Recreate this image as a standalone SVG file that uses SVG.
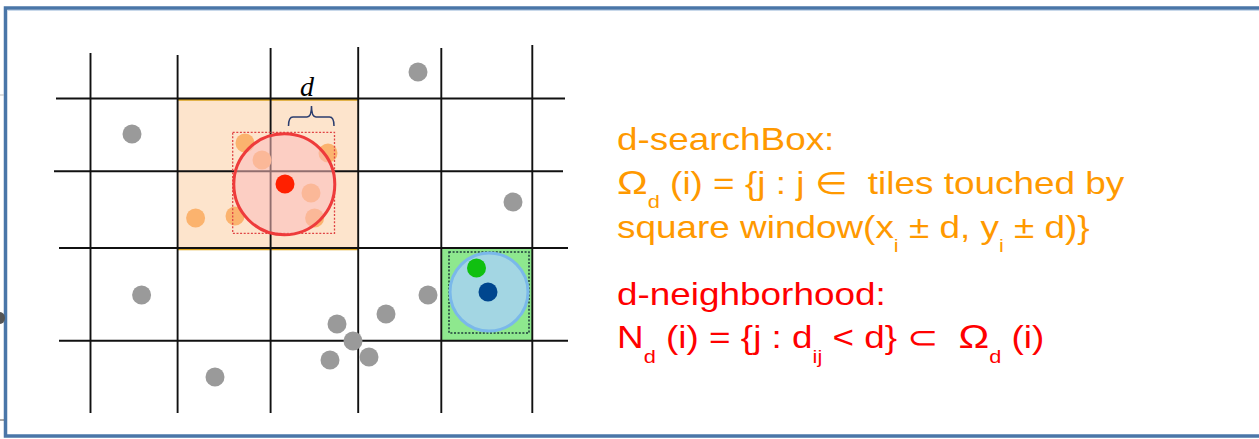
<svg xmlns="http://www.w3.org/2000/svg" width="1259" height="439" viewBox="0 0 1259 439">
<style>
.grid line{stroke:#111;stroke-width:1.9}
.gray{fill:#9a9a9a}
.org{fill:#fbb36e}
.t{font-family:"Liberation Sans",Arial,sans-serif;font-size:30.5px}
.o{fill:#ff9900}
.r{fill:#ff0000}
.sub{font-size:18px}
.om{font-size:34px}
</style>
<rect x="0" y="0" width="1259" height="439" fill="#ffffff"/>
<g id="frame">
<rect x="5.5" y="8" width="1300" height="428" fill="none" stroke="#4a76a8" stroke-width="3.5"/>
<line x1="7" y1="10.5" x2="1259" y2="10.5" stroke="#c8d8ea" stroke-width="1"/>
<path d="M0,312 A5,6 0 0 1 0,324 Z" fill="#555"/>
<line x1="0" y1="420" x2="4" y2="420" stroke="#555" stroke-width="1"/>
<line x1="0" y1="95" x2="4" y2="95" stroke="#bbb" stroke-width="1"/>
</g>
<g id="searchbox-area">
<rect x="177.6" y="98.5" width="180.6" height="149.5" fill="#fde4cc"/>
<line x1="177.6" y1="99.8" x2="358.2" y2="99.8" stroke="#d9a21e" stroke-width="2"/>
<line x1="177.6" y1="249.3" x2="358.2" y2="249.3" stroke="#d9a21e" stroke-width="2"/>
</g>
<g id="green-tile">
<rect x="442" y="248" width="90" height="92.5" fill="#8ee88e"/>
</g>
<g id="grid" class="grid">
<line x1="90.5" y1="53" x2="90.5" y2="413"/>
<line x1="177.6" y1="55" x2="177.6" y2="413"/>
<line x1="270.6" y1="48" x2="270.6" y2="413"/>
<line x1="358.2" y1="47" x2="358.2" y2="413"/>
<line x1="441.3" y1="48" x2="441.3" y2="413"/>
<line x1="532.3" y1="45" x2="532.3" y2="413"/>
<line x1="56" y1="98.5" x2="565" y2="98.5"/>
<line x1="54" y1="171.3" x2="563" y2="171.3"/>
<line x1="59" y1="248" x2="568" y2="248"/>
<line x1="59" y1="340.7" x2="568" y2="340.7"/>
</g>
<g id="gray-points">
<circle class="gray" cx="418" cy="72" r="9.5"/>
<circle class="gray" cx="132" cy="134" r="9.5"/>
<circle class="gray" cx="513" cy="202" r="9.5"/>
<circle class="gray" cx="141.6" cy="295" r="9.5"/>
<circle class="gray" cx="428" cy="295" r="9.5"/>
<circle class="gray" cx="386" cy="314" r="9.5"/>
<circle class="gray" cx="337" cy="324" r="9.5"/>
<circle class="gray" cx="353" cy="341" r="9.5"/>
<circle class="gray" cx="330" cy="360" r="9.5"/>
<circle class="gray" cx="369" cy="357" r="9.5"/>
<circle class="gray" cx="215" cy="377" r="9.5"/>
</g>
<g id="orange-points">
<circle class="org" cx="245" cy="143" r="9.5"/>
<circle class="org" cx="262" cy="160" r="9.5"/>
<circle class="org" cx="328" cy="153" r="9.5"/>
<circle class="org" cx="311" cy="193" r="9.5"/>
<circle class="org" cx="195.6" cy="218" r="9.5"/>
<circle class="org" cx="235" cy="216" r="9.5"/>
<circle class="org" cx="314.6" cy="218" r="9.5"/>
</g>
<g id="red-neighborhood">
<rect x="232.7" y="132.3" width="101.8" height="101" fill="none" stroke="#e04545" stroke-width="1.3" stroke-dasharray="2 1.6"/>
<circle cx="284.3" cy="184.3" r="50.5" fill="#fbbcbc" fill-opacity="0.55" stroke="#ee3b3b" stroke-width="3"/>
<circle cx="285" cy="184" r="9.5" fill="#ff2000"/>
</g>
<g id="d-label">
<path d="M288.5,126 Q288.5,117 293,117 L307,117 Q311.5,117 311.5,106 Q311.5,117 316,117 L329.5,117 Q334,117 334,126" fill="none" stroke="#2b3d6e" stroke-width="1.5"/>
<text x="307" y="96" font-family="'Liberation Serif',serif" font-style="italic" font-size="28" text-anchor="middle" fill="#000">d</text>
</g>
<g id="blue-neighborhood">
<rect x="449" y="252" width="80" height="81" fill="none" stroke="#1d3b3b" stroke-width="1.5" stroke-dasharray="2 1.6"/>
<circle cx="489" cy="292" r="39" fill="#a3d6e3" stroke="#7ab8ea" stroke-width="3"/>
<circle cx="476.5" cy="268" r="9.5" fill="#10c010"/>
<circle cx="488" cy="292" r="9.5" fill="#00468e"/>
</g>
<g id="legend" class="t" transform="translate(617 0) scale(1.21 1)">
<text class="t o" x="0" y="150">d-searchBox:</text>
<text class="t o" x="0" y="194"><tspan class="om">Ω</tspan><tspan class="sub" dy="14">d</tspan><tspan dy="-14" xml:space="preserve"> (i) = {j : j ∈  tiles touched by</tspan></text>
<text class="t o" x="0" y="238">square window(x<tspan class="sub" dy="14">i</tspan><tspan dy="-14" xml:space="preserve"> ± d, y</tspan><tspan class="sub" dy="14">i</tspan><tspan dy="-14" xml:space="preserve"> ± d)}</tspan></text>
<text class="t r" x="0" y="305">d-neighborhood:</text>
<text class="t r" x="0" y="348">N<tspan class="sub" dy="15">d</tspan><tspan dy="-15" xml:space="preserve"> (i) = {j : d</tspan><tspan class="sub" dy="15">ij</tspan><tspan dy="-15" xml:space="preserve"> &lt; d} ⊂  </tspan><tspan class="om">Ω</tspan><tspan class="sub" dy="15">d</tspan><tspan dy="-15" xml:space="preserve"> (i)</tspan></text>
</g>
</svg>
